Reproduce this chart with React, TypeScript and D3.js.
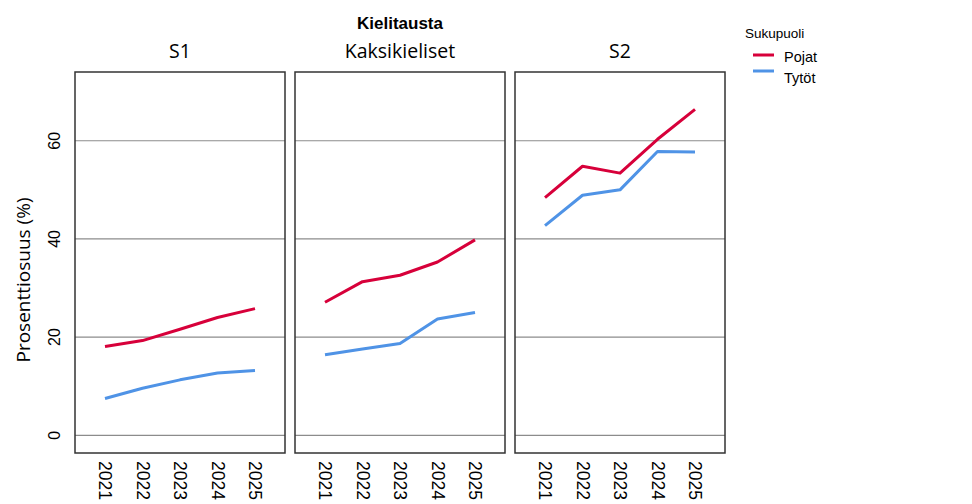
import React from "react";
import * as d3 from "d3";

const years = ["2021", "2022", "2023", "2024", "2025"];
const panels = ["S1", "Kaksikieliset", "S2"];
const seriesNames = ["Pojat", "Tytöt"];
const seriesColors = ["#d7003a", "#4f93e6"];
const pojatS1 = [18.1, 19.3, 21.6, 24.0, 25.8];
const tytotS1 = [7.5, 9.6, 11.3, 12.7, 13.2];
const pojatKaksi = [27.1, 31.3, 32.6, 35.3, 39.8];
const tytotKaksi = [16.4, 17.6, 18.7, 23.7, 25.0];
const pojatS2 = [48.4, 54.8, 53.4, 60.3, 66.4];
const tytotS2 = [42.7, 48.9, 50.0, 57.8, 57.7];
const yTicks = [0, 20, 40, 60];

const panelData = [
  [pojatS1, tytotS1],
  [pojatKaksi, tytotKaksi],
  [pojatS2, tytotS2],
];

const W = 972;
const H = 504;
const top = 72;
const bottom = 453;
const panelLefts = [75, 295, 515];
const panelW = 210;

export default function App() {
  const y = d3.scaleLinear().domain([-3.6, 74.0]).range([bottom, top]);
  const sans = "'Liberation Sans', Arial, sans-serif";
  const stripFont = "'Open Sans', 'Noto Sans', sans-serif";
  return (
    <svg width={W} height={H} style={{ position: "absolute", left: 0, top: 0, background: "#fff" }}>
      <text x={400} y={29} textAnchor="middle" fontFamily={sans} fontWeight="bold" fontSize={17}>
        Kielitausta
      </text>
      <text
        transform={`translate(30,280) rotate(-90)`}
        textAnchor="middle"
        fontFamily={stripFont}
        fontSize={19}
      >
        Prosenttiosuus (%)
      </text>
      {yTicks.map((t) => (
        <text
          key={t}
          transform={`translate(60,${y(t)}) rotate(-90)`}
          textAnchor="middle"
          fontFamily={sans}
          fontSize={16}
        >
          {t}
        </text>
      ))}
      {panels.map((p, i) => {
        const x0 = panelLefts[i];
        const x = d3.scalePoint<string>().domain(years).range([x0, x0 + panelW]).padding(0.8);
        const line = d3
          .line<number>()
          .x((_, j) => x(years[j]) as number)
          .y((v) => y(v));
        return (
          <g key={p}>
            <text x={x0 + panelW / 2} y={58} textAnchor="middle" fontFamily={stripFont} fontSize={19.5}>
              {p}
            </text>
            {yTicks.map((t) => (
              <line key={t} x1={x0} x2={x0 + panelW} y1={y(t)} y2={y(t)} stroke="#8c8c8c" strokeWidth={1.2} />
            ))}
            {panelData[i].map((vals, k) => (
              <path
                key={k}
                d={line(vals) || ""}
                fill="none"
                stroke={seriesColors[k]}
                strokeWidth={3}
                strokeLinejoin="round"
              />
            ))}
            <rect x={x0} y={top} width={panelW} height={bottom - top} fill="none" stroke="#333" strokeWidth={1.5} />
            {years.map((yr) => (
              <text
                key={yr}
                transform={`translate(${(x(yr) as number) - 6},461) rotate(90)`}
                textAnchor="start"
                fontFamily={sans}
                fontSize={17.5}
              >
                {yr}
              </text>
            ))}
          </g>
        );
      })}
      <text x={745} y={38} fontFamily={sans} fontSize={13.5}>
        Sukupuoli
      </text>
      {seriesNames.map((s, k) => (
        <g key={s}>
          <line x1={753} x2={774} y1={55 + k * 16} y2={55 + k * 16} stroke={seriesColors[k]} strokeWidth={3} />
          <text x={784} y={62 + k * 21} fontFamily={sans} fontSize={14.5}>
            {s}
          </text>
        </g>
      ))}
    </svg>
  );
}
